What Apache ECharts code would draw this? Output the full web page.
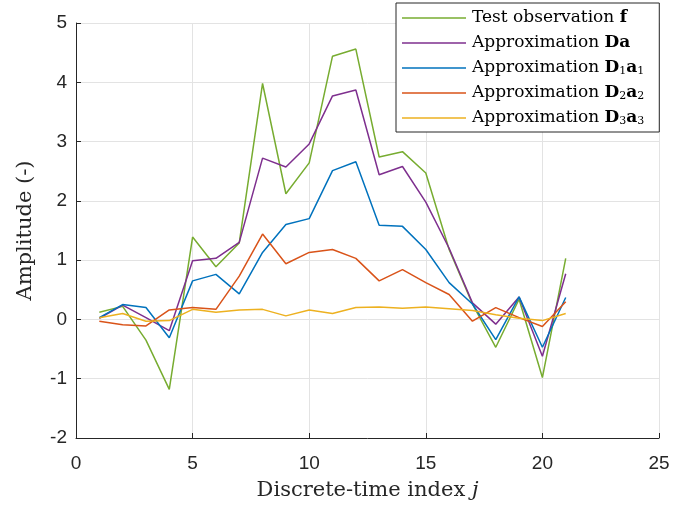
<!DOCTYPE html>
<html>
<head>
<meta charset="utf-8">
<script src="https://cdn.jsdelivr.net/npm/echarts@6/dist/echarts.min.js"></script>
<style>html,body{margin:0;padding:0;background:#fff}#c{width:697px;height:506px}</style>
</head>
<body>
<div id="c"></div>
<script>
const xIndex = [1,2,3,4,5,6,7,8,9,10,11,12,13,14,15,16,17,18,19,20,21];
const testObs = [0.12,0.22,-0.35,-1.18,1.39,0.89,1.29,3.98,2.12,2.64,4.44,4.56,2.74,2.83,2.47,1.18,0.26,-0.47,0.34,-0.98,1.03];
const approxDa = [0.02,0.24,0.03,-0.19,0.99,1.03,1.30,2.72,2.57,2.96,3.77,3.87,2.44,2.58,1.98,1.20,0.28,-0.08,0.38,-0.62,0.77];
const approxD1 = [0.03,0.25,0.20,-0.31,0.65,0.76,0.43,1.13,1.60,1.70,2.51,2.66,1.59,1.57,1.18,0.62,0.26,-0.34,0.38,-0.47,0.37];
const approxD2 = [-0.03,-0.09,-0.11,0.16,0.20,0.17,0.73,1.44,0.94,1.13,1.18,1.03,0.65,0.84,0.62,0.42,-0.03,0.20,0.03,-0.12,0.30];
const approxD3 = [0.03,0.10,-0.03,-0.02,0.17,0.12,0.16,0.17,0.06,0.16,0.10,0.20,0.21,0.19,0.21,0.18,0.15,0.08,0.02,-0.02,0.10];
const seriesNames = ['f','Da','D1a1','D2a2','D3a3'];
const legendLabels = {
  'f': 'Test observation {b|f}',
  'Da': 'Approximation {b|Da}',
  'D1a1': 'Approximation {b|D}{s|1}{b|a}{s|1}',
  'D2a2': 'Approximation {b|D}{s|2}{b|a}{s|2}',
  'D3a3': 'Approximation {b|D}{s|3}{b|a}{s|3}'
};
const colors = ['#77AC30','#7E2F8E','#0072BD','#D95319','#EDB120'];
const values = [testObs, approxDa, approxD1, approxD2, approxD3];

const serif = 'DejaVu Serif';
const chart = echarts.init(document.getElementById('c'));
chart.setOption({
  animation: false,
  grid: {left: 76, right: 38, top: 23, bottom: 65, containLabel: false},
  xAxis: {
    type: 'value', min: 0, max: 25, interval: 5,
    name: 'Discrete-time index {i|j}', nameLocation: 'middle', nameGap: 42,
    nameTextStyle: {fontFamily: serif, fontSize: 21, color: '#262626',
      rich: {i: {fontFamily: serif, fontStyle: 'italic', fontSize: 21, color: '#262626'}}},
    axisLine: {show: true, onZero: false, lineStyle: {color: '#262626', width: 1}},
    axisTick: {show: true, inside: true, length: 5, lineStyle: {color: '#262626'}},
    axisLabel: {fontFamily: 'Liberation Sans', fontSize: 19, color: '#262626', margin: 16},
    splitLine: {show: true, lineStyle: {color: '#e3e3e3', width: 1}}
  },
  yAxis: {
    type: 'value', min: -2, max: 5, interval: 1,
    name: 'Amplitude (-)', nameLocation: 'middle', nameGap: 40,
    nameTextStyle: {fontFamily: serif, fontSize: 21, color: '#262626'},
    axisLine: {show: true, onZero: false, lineStyle: {color: '#262626', width: 1}},
    axisTick: {show: true, inside: true, length: 5, lineStyle: {color: '#262626'}},
    axisLabel: {fontFamily: 'Liberation Sans', fontSize: 19, color: '#262626', margin: 9},
    splitLine: {show: true, lineStyle: {color: '#e3e3e3', width: 1}}
  },
  legend: {
    orient: 'vertical', left: 396, top: 3,
    backgroundColor: '#fff', borderColor: '#262626', borderWidth: 1,
    padding: [5, 15, 4, 6], icon: 'rect', itemWidth: 64, itemHeight: 1.6, itemGap: 5,
    data: seriesNames,
    formatter: n => legendLabels[n],
    textStyle: {fontFamily: serif, fontSize: 17, lineHeight: 20, color: '#000', padding: [0,0,0,1],
      rich: {
        b: {fontFamily: serif, fontWeight: 'bold', fontSize: 17, lineHeight: 20, color: '#000'},
        s: {fontFamily: serif, fontSize: 11, lineHeight: 14, color: '#000', padding: [6,0,0,0]}
      }}
  },
  series: seriesNames.map((n, k) => ({
    name: n, type: 'line', symbol: 'none', color: colors[k],
    lineStyle: {width: 1.5, color: colors[k]},
    data: xIndex.map((x, i) => [x, values[k][i]])
  }))
});
</script>
</body>
</html>
